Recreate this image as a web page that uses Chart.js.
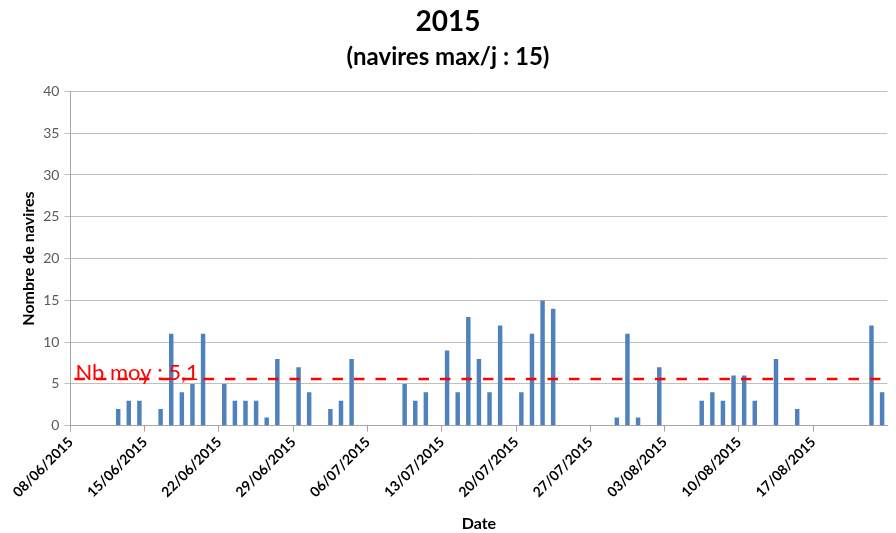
<!DOCTYPE html>
<html><head><meta charset="utf-8">
<script src="https://cdn.jsdelivr.net/npm/chart.js@4/dist/chart.umd.min.js"></script>
<style>html,body{margin:0;padding:0;background:#fff}</style>
</head><body>
<canvas id="c" width="896" height="533"></canvas>
<script>
// ---- data ----
const startDay = [2015, 6, 8];      // first category: 08/06/2015
const dayCount = 77;                // 08/06/2015 .. 23/08/2015
const barDates = ['12/06/2015','13/06/2015','14/06/2015','16/06/2015','17/06/2015','18/06/2015','19/06/2015','20/06/2015',
  '22/06/2015','23/06/2015','24/06/2015','25/06/2015','26/06/2015','27/06/2015','29/06/2015','30/06/2015',
  '02/07/2015','03/07/2015','04/07/2015','09/07/2015','10/07/2015','11/07/2015','13/07/2015','14/07/2015',
  '15/07/2015','16/07/2015','17/07/2015','18/07/2015','20/07/2015','21/07/2015','22/07/2015','23/07/2015',
  '29/07/2015','30/07/2015','31/07/2015','02/08/2015','06/08/2015','07/08/2015','08/08/2015','09/08/2015',
  '10/08/2015','11/08/2015','13/08/2015','15/08/2015','22/08/2015','23/08/2015'];
const barValues = [2,3,3,2,11,4,5,11,
  5,3,3,3,1,8,7,4,
  2,3,8,5,3,4,9,4,
  13,8,4,12,4,11,15,14,
  1,11,1,7,3,4,3,6,
  6,3,8,2,12,4];
const yTickMax = 40;
const yTickStep = 5;
const tickEveryDays = 7;
const meanLineValue = 5.6;
const meanLabel = 'Nb moy : 5,1';
const titleText = '2015';
const subtitleText = '(navires max/j : 15)';

// ---- build category table ----
const pad = n => String(n).padStart(2, '0');
const categories = [];
for (let i = 0; i < dayCount; i++) {
  const d = new Date(startDay[0], startDay[1] - 1, startDay[2] + i);
  categories.push(pad(d.getDate()) + '/' + pad(d.getMonth() + 1) + '/' + d.getFullYear());
}
const series = categories.map(c => {
  const k = barDates.indexOf(c);
  return k >= 0 ? barValues[k] : null;
});

const FONT = 'Lato';

const meanPlugin = {
  id: 'meanLine',
  afterDatasetsDraw(chart) {
    const { ctx, chartArea } = chart;
    const y = chart.scales.y.getPixelForValue(meanLineValue);
    ctx.save();
    ctx.strokeStyle = '#ff0000';
    ctx.lineWidth = 2.6;
    ctx.setLineDash([10.5, 11]);
    ctx.beginPath();
    ctx.moveTo(chartArea.left + 4, y);
    ctx.lineTo(chartArea.right, y);
    ctx.stroke();
    ctx.setLineDash([]);
    ctx.fillStyle = '#ff0000';
    ctx.font = '22px ' + FONT;
    ctx.textBaseline = 'alphabetic';
    ctx.textAlign = 'left';
    ctx.fillText(meanLabel, chartArea.left + 5, y + 1);
    ctx.restore();
  }
};

new Chart(document.getElementById('c'), {
  type: 'bar',
  data: {
    labels: categories,
    datasets: [{
      data: series,
      backgroundColor: '#4f81bd',
      borderWidth: 0,
      categoryPercentage: 1,
      barPercentage: 0.42
    }]
  },
  options: {
    responsive: false,
    devicePixelRatio: 1,
    animation: false,
    layout: { padding: { left: 6, right: 6, top: 3, bottom: 0 } },
    plugins: {
      legend: { display: false },
      tooltip: { enabled: false },
      title: {
        display: true, text: titleText, color: '#000',
        font: { family: FONT, size: 28, weight: 'bold' },
        padding: { top: 2, bottom: 4 }
      },
      subtitle: {
        display: true, text: subtitleText, color: '#000',
        font: { family: FONT, size: 24, weight: 'bold' },
        padding: { top: 0, bottom: 20 }
      }
    },
    scales: {
      x: {
        offset: true,
        grid: {
          offset: true,
          drawOnChartArea: false,
          drawTicks: true,
          tickLength: 6,
          color: ctx => (ctx.index !== undefined && ctx.index % tickEveryDays === 0) ? '#a6a6a6' : 'rgba(0,0,0,0)'
        },
        border: { color: '#a6a6a6', width: 1 },
        ticks: {
          autoSkip: false,
          maxRotation: 45, minRotation: 45,
          labelOffset: -5,
          padding: 2,
          color: '#000',
          font: { family: FONT, size: 14, weight: 'bold' },
          callback: function (v, i) { return i % tickEveryDays === 0 ? this.getLabelForValue(v) : ''; }
        },
        title: {
          display: true, text: 'Date', color: '#000',
          font: { family: FONT, size: 16, weight: 'bold' },
          padding: { top: 11, bottom: 0 }
        }
      },
      y: {
        min: 0, max: yTickMax,
        grid: { color: '#bfbfbf', tickLength: 6, drawTicks: true },
        border: { color: '#a6a6a6', width: 1 },
        ticks: {
          stepSize: yTickStep,
          color: '#595959',
          padding: 5,
          font: { family: FONT, size: 14 }
        },
        title: {
          display: true, text: 'Nombre de navires', color: '#000',
          font: { family: FONT, size: 16, weight: 'bold' },
          padding: { top: 13, bottom: 0 }
        }
      }
    }
  },
  plugins: [meanPlugin]
});
</script>
</body></html>
